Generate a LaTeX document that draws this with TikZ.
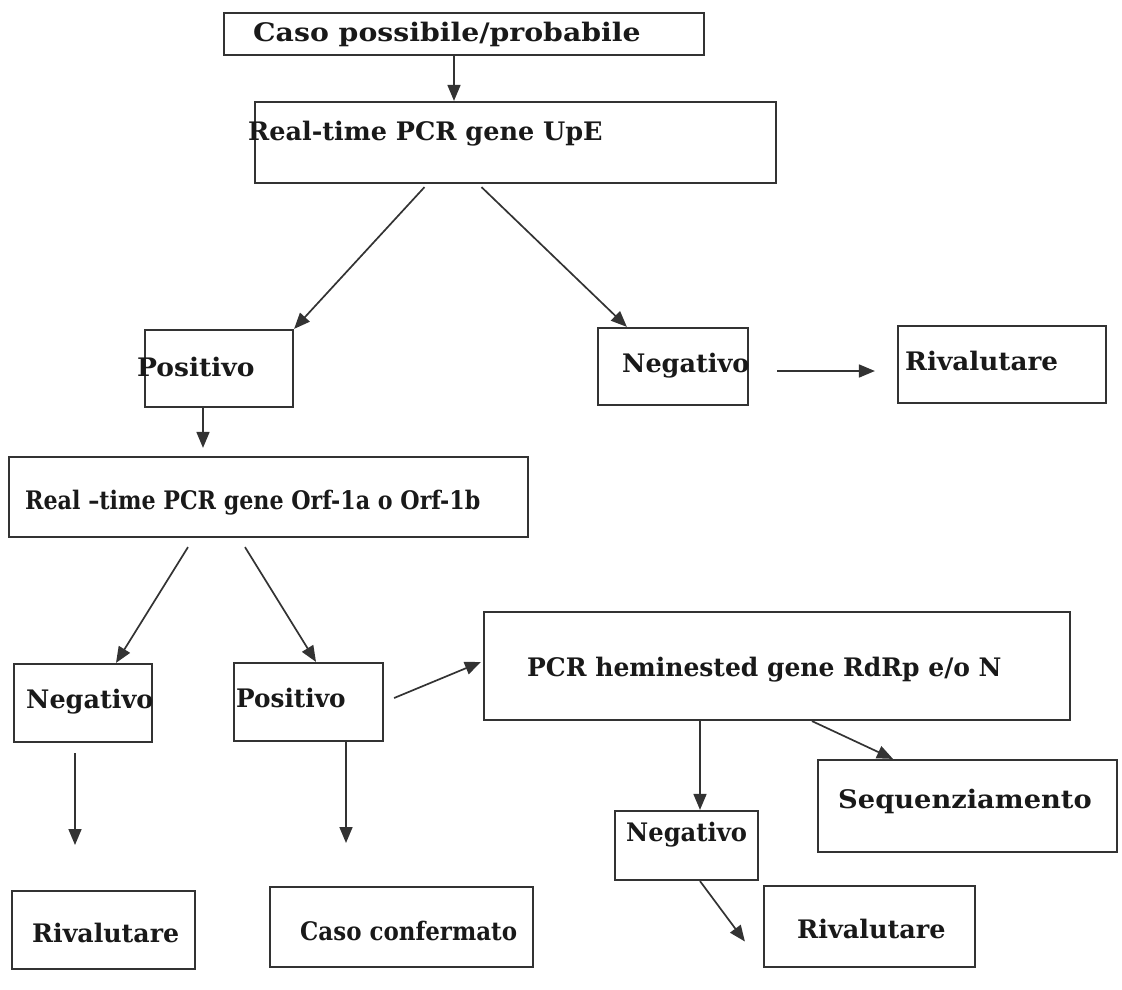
\documentclass[tikz,border=0pt]{standalone}
\usepackage{fontspec}
\setmainfont{DejaVu Serif}
\usetikzlibrary{arrows.meta}
\newcommand{\hs}[2]{\scalebox{#1}[1]{#2}}
\begin{document}
\begin{tikzpicture}[x=1pt,y=-1pt,
  box/.style={draw=black!80,line width=2.2pt,inner sep=0pt},
  lbl/.style={anchor=base west,inner sep=0pt,text=black!90,font=\bfseries\fontsize{25.5}{28}\selectfont},
  arr/.style={draw=black!80,line width=1.7pt,-{Triangle[length=16pt,width=13pt]}}]
\useasboundingbox (0,0) rectangle (1122,989);

%caselle
\node[box,minimum width=480pt,minimum height=42pt] (caso) at (464,34) {};
\node[box,minimum width=521pt,minimum height=81pt] (upe) at (515.5,142.5) {};
\node[box,minimum width=148pt,minimum height=77pt] (pos1) at (219,368.5) {};
\node[box,minimum width=150pt,minimum height=77pt] (neg1) at (673,366.5) {};
\node[box,minimum width=208pt,minimum height=77pt] (riv1) at (1002,364.5) {};
\node[box,minimum width=519pt,minimum height=80pt] (orf) at (268.5,497) {};
\node[box,minimum width=138pt,minimum height=78pt] (neg2) at (83,703) {};
\node[box,minimum width=149pt,minimum height=78pt] (pos2) at (308.5,702) {};
\node[box,minimum width=586pt,minimum height=108pt] (pcr) at (777,666) {};
\node[box,minimum width=299pt,minimum height=92pt] (seq) at (967.5,806) {};
\node[box,minimum width=143pt,minimum height=69pt] (neg3) at (686.5,845.5) {};
\node[box,minimum width=183pt,minimum height=78pt] (riv2) at (103.5,930) {};
\node[box,minimum width=263pt,minimum height=80pt] (conf) at (401.5,927) {};
\node[box,minimum width=211pt,minimum height=81pt] (riv3) at (869.5,926.5) {};

%testi
\node[lbl] (caso-t) at (253,41) {\hs{1.11}{Caso possibile/probabile}};
\node[lbl] (upe-t) at (248,140) {\hs{1}{Real-time PCR gene UpE}};
\node[lbl] (pos1-t) at (137,376) {\hs{1.04}{Positivo}};
\node[lbl] (neg1-t) at (622,372) {Negativo};
\node[lbl] (riv1-t) at (905,370) {\hs{1.03}{Rivalutare}};
\node[lbl] (orf-t) at (25,509) {\hs{0.87}{Real --time PCR gene Orf-1a o Orf-1b}};
\node[lbl] (neg2-t) at (26,708) {Negativo};
\node[lbl] (pos2-t) at (236,707) {\hs{0.97}{Positivo}};
\node[lbl] (pcr-t) at (527,676) {\hs{0.98}{PCR heminested gene RdRp e/o N}};
\node[lbl] (seq-t) at (838,808) {\hs{1.07}{Sequenziamento}};
\node[lbl] (neg3-t) at (626,841) {\hs{0.95}{Negativo}};
\node[lbl] (riv2-t) at (32,942) {\hs{0.99}{Rivalutare}};
\node[lbl] (conf-t) at (300,940) {\hs{0.9}{Caso confermato}};
\node[lbl] (riv3-t) at (797,938) {Rivalutare};

%estremi liberi
\coordinate (neg2-end) at (75,845);
\coordinate (pos2-end) at (346,843);

%frecce
\draw[arr] ([xshift=-10pt]caso.south) -- ([xshift=-61.5pt]upe.north);
\draw[arr] ([xshift=-91pt,yshift=-3pt]upe.south) -- (pos1.north east);
\draw[arr] ([xshift=-34pt,yshift=-3pt]upe.south) -- ([xshift=30pt]neg1.north west);
\draw[arr] ([xshift=28pt,yshift=-4.5pt]neg1.east) -- ([xshift=-22pt,yshift=-6.5pt]riv1.west);
\draw[arr] ([xshift=-16pt]pos1.south) -- ([xshift=-65.5pt,yshift=8pt]orf.north);
\draw[arr] ([xshift=-80.5pt,yshift=-9pt]orf.south) -- ([xshift=33pt]neg2.north);
\draw[arr] ([xshift=-23.5pt,yshift=-9pt]orf.south) -- ([xshift=7.5pt]pos2.north);
\draw[arr] ([xshift=10pt,yshift=4pt]pos2.east) -- ([xshift=-2pt,yshift=4pt]pcr.west);
\draw[arr] ([xshift=-8pt,yshift=-10pt]neg2.south) -- (neg2-end);
\draw[arr] ([xshift=37.5pt]pos2.south) -- (pos2-end);
\draw[arr] ([xshift=-77pt]pcr.south) -- ([xshift=13.5pt]neg3.north);
\draw[arr] ([xshift=35pt]pcr.south) -- ([xshift=-74.5pt]seq.north);
\draw[arr] ([xshift=13.5pt]neg3.south) -- ([xshift=-18pt,yshift=-15pt]riv3.west);

\end{tikzpicture}
\end{document}
